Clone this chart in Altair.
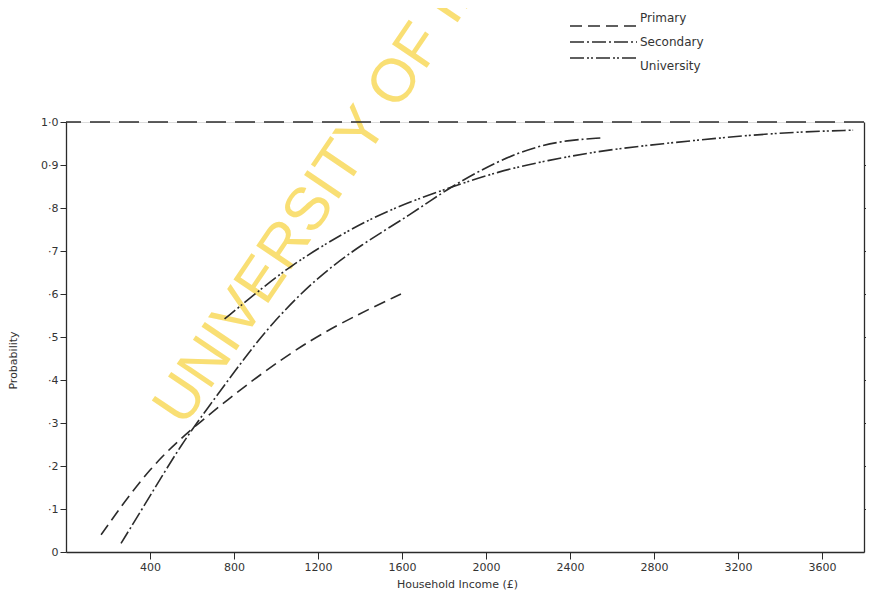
import altair as alt
import pandas as pd

# ---- data ----
levels = ["Primary", "Secondary", "University"]

primary_x = [167, 400, 629, 914, 1167, 1400, 1595]
primary_y = [0.04, 0.20, 0.30, 0.41, 0.495, 0.555, 0.60]

secondary_x = [262, 400, 548, 690, 833, 976, 1186, 1405, 1643, 1819, 2057, 2248, 2400, 2548]
secondary_y = [0.02, 0.13, 0.25, 0.345, 0.44, 0.53, 0.635, 0.715, 0.785, 0.846, 0.91, 0.945, 0.958, 0.963]

university_x = [755, 900, 1057, 1329, 1567, 1819, 2057, 2295, 2533, 2771, 3010, 3248, 3486, 3748]
university_y = [0.542, 0.60, 0.662, 0.745, 0.802, 0.846, 0.885, 0.911, 0.932, 0.946, 0.958, 0.969, 0.977, 0.981]

asymptote = [1.0]
x_ticks = [400, 800, 1200, 1600, 2000, 2400, 2800, 3200, 3600]
y_ticks = [0, 0.1, 0.2, 0.3, 0.4, 0.5, 0.6, 0.7, 0.8, 0.9, 1.0]
watermark = ["UNIVERSITY OF IBADAN LIBRARY"]

rows = []
for name, xs, ys in [("Primary", primary_x, primary_y),
                     ("Secondary", secondary_x, secondary_y),
                     ("University", university_x, university_y)]:
    for a, b in zip(xs, ys):
        rows.append({"income": a, "prob": b, "level": name})
df = pd.DataFrame(rows)
legend_df = pd.DataFrame({"level": levels})

INK = "#2b2b2b"
FONT = "DejaVu Sans"
dash_scale = alt.Scale(domain=levels, range=[[12, 6], [14, 3, 2, 3], [14, 3, 2, 2, 2, 3]])

x_enc = alt.X("income:Q", scale=alt.Scale(domain=[0, 3800], nice=False),
              axis=alt.Axis(values=x_ticks, format="d", title="Household  Income  (£)",
                            labelFont=FONT, labelFontSize=11, labelColor="#333",
                            titleFont=FONT, titleFontSize=11, titleFontWeight="normal",
                            titleColor="#333", titlePadding=6, titleX=391, tickSize=7,
                            tickColor=INK, domainColor=INK, domainWidth=1.3,
                            labelPadding=2, grid=False))

y_label_expr = ("datum.value == 0 ? '0' : (datum.value > 0.95 ? '1·0' : "
                "(datum.value > 0.85 ? '0·9' : '·' + round(datum.value * 10)))")

lines = alt.Chart(df).mark_line(interpolate="basis", color=INK, strokeWidth=1.6).encode(
    x=x_enc,
    y=alt.Y("prob:Q", scale=alt.Scale(domain=[0, 1], nice=False),
            axis=alt.Axis(values=y_ticks, labelExpr=y_label_expr, title="Probability",
                          labelFont=FONT, labelFontSize=11, labelColor="#333",
                          titleFont=FONT, titleFontSize=11, titleFontWeight="normal",
                          titleColor="#333", titleY=238, titlePadding=22,
                          tickSize=6, tickColor=INK, domainColor=INK, domainWidth=1.3,
                          grid=False)),
    strokeDash=alt.StrokeDash("level:N", scale=dash_scale, legend=None),
    detail="level:N",
)

top_rule = alt.Chart(pd.DataFrame({"p": asymptote})).mark_rule(
    color=INK, strokeWidth=1.6, strokeDash=[20, 9]
).encode(
    y=alt.Y("p:Q", scale=alt.Scale(domain=[0, 1], nice=False),
            axis=alt.Axis(orient="right", values=y_ticks[1:-1], labels=False, title=None,
                          tickSize=6, tickColor=INK, domainColor=INK, domainWidth=1.3,
                          grid=False))
)

# hand-drawn style legend (top right)
leg_y = alt.Y("level:N", scale=alt.Scale(domain=levels, range=[-104, -56], padding=0),
              axis=None)
legend_lines = alt.Chart(legend_df).mark_rule(color=INK, strokeWidth=1.6).encode(
    x=alt.value(504), x2=alt.value(571), y=leg_y,
    strokeDash=alt.StrokeDash("level:N", scale=dash_scale, legend=None),
)
legend_text = alt.Chart(legend_df).mark_text(
    font=FONT, fontSize=12, color="#333", align="left", baseline="middle"
).encode(x=alt.value(574), y=leg_y, text="level:N")

wm = alt.Chart(pd.DataFrame({"t": watermark})).mark_text(
    font="Liberation Sans Narrow, Liberation Sans", fontSize=61, color="#F9DC66",
    opacity=0.9, angle=304, align="left", baseline="alphabetic"
).encode(text="t:N", x=alt.value(118), y=alt.value(306))

chart = alt.layer(wm, lines, top_rule, legend_lines, legend_text).resolve_scale(
    y="independent"
).properties(
    width=798, height=430,
    autosize=alt.AutoSizeParams(type="none"),
    padding={"left": 58, "top": 114, "right": 2, "bottom": 38},
).configure_view(stroke=None).configure(background="white")

chart.save("out.html", embed_options={"renderer": "svg", "actions": False})
